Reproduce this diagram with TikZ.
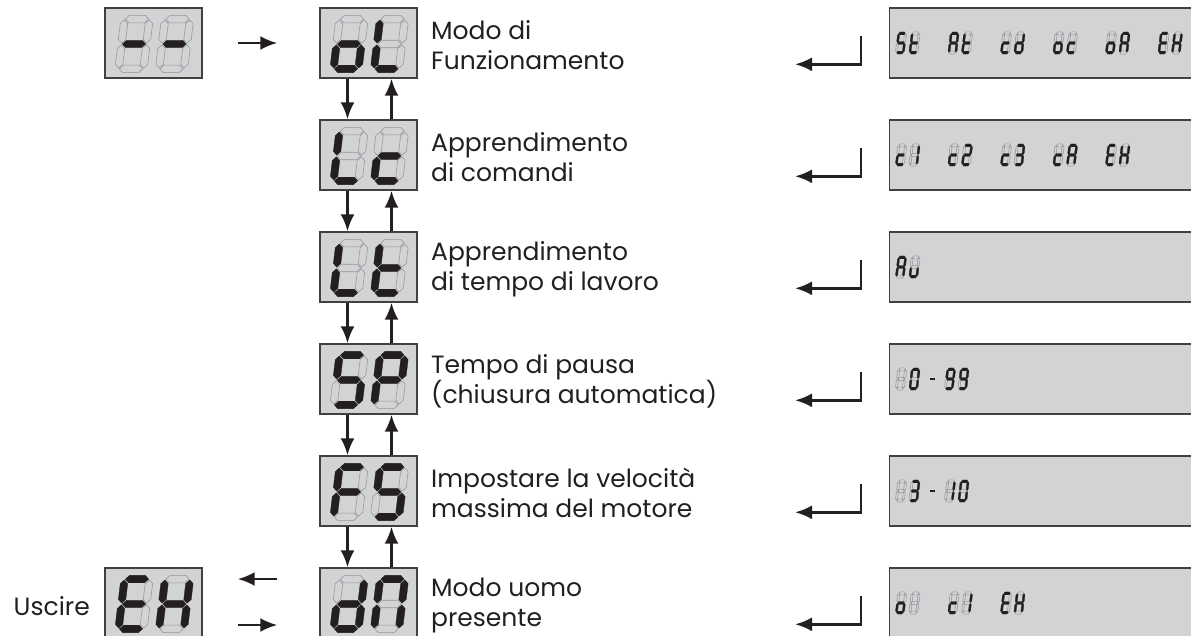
\documentclass[tikz,border=0pt]{standalone}
\usepackage{fontspec}
\setmainfont{Poppins}
\usepackage{xstring}
\usetikzlibrary{arrows.meta}
\definecolor{lcdgray}{HTML}{D1D3D4}
\definecolor{lcdedge}{HTML}{414042}
\definecolor{segoffc}{HTML}{939598}
\definecolor{ink}{HTML}{231F20}

\tikzset{
  display/.style={draw=lcdedge, fill=lcdgray, line width=1.4pt, minimum width=97pt, minimum height=70pt, inner sep=0pt},
  panel/.style={draw=lcdedge, fill=lcdgray, line width=1.4pt, minimum width=340pt, minimum height=70pt, anchor=west, inner sep=0pt},
  segon/.style={fill=ink, draw=ink, line width=0.3pt},
  segoff/.style={draw=segoffc, line width=0.55pt},
  flow/.style={draw=ink, line width=2.6pt, -{Latex[length=17pt,width=14pt]}},
  menutext/.style={anchor=west, align=left, text=ink, inner sep=0pt, font=\fontsize{25}{30}\selectfont},
}

% one lcd digit: position, xscale, yscale, lit segments
\newcommand{\lcddigit}[4]{%
  \begin{scope}[shift={#1}, xslant=0.12, xscale=#2, yscale=#3, shift={(-1.5,-3)}]
    \foreach \s/\sx/\sy/\sr in {a/1.5/6/0, b/3/4.5/90, c/3/1.5/90, d/1.5/0/0, e/0/1.5/90, f/0/4.5/90, g/1.5/3/0}{
      \IfSubStr{#4}{\s}{\def\segstyle{segon}}{\def\segstyle{segoff}}
      \draw[\segstyle, shift={(\sx,\sy)}, rotate=\sr] (-1.4,0) -- (-0.95,0.45) -- (0.95,0.45) -- (1.4,0) -- (0.95,-0.45) -- (-0.95,-0.45) -- cycle;
    }
  \end{scope}}
\newcommand{\bigpair}[3]{%
  \begin{scope}[shift={(#1)}]
    \lcddigit{(-19.5,-1)}{8.3}{8.3}{#2}
    \lcddigit{(21,-1)}{8.3}{8.3}{#3}
  \end{scope}}
\newcommand{\smallpair}[3]{%
  \lcddigit{(#1,0)}{2.3}{3.2}{#2}
  \lcddigit{(#1+13.5,0)}{2.3}{3.2}{#3}}
\newcommand{\lcddash}[1]{\fill[ink] (#1-2.8,-1.4) rectangle (#1+2.8,1.4);}

\begin{document}
\begin{tikzpicture}[x=1pt,y=1pt]
  \useasboundingbox (0,0) rectangle (1191,-635);
  \clip (0,0) rectangle (1191,-635);

  % menu displays
  \node[display] (dash) at (153.5,-43) {};
  \node[display] (oL) at (368.5,-43) {};
  \node[display] (Lc) at (368.5,-155) {};
  \node[display] (Lt) at (368.5,-267) {};
  \node[display] (SP) at (368.5,-379) {};
  \node[display] (FS) at (368.5,-491) {};
  \node[display] (dn) at (368.5,-603) {};
  \node[display] (EH) at (153.5,-603) {};
  \bigpair{dash}{g}{g}
  \bigpair{oL}{cdeg}{def}
  \bigpair{Lc}{def}{deg}
  \bigpair{Lt}{def}{defg}
  \bigpair{SP}{acdfg}{abefg}
  \bigpair{FS}{aefg}{acdfg}
  \bigpair{dn}{bcdeg}{abcef}
  \bigpair{EH}{adefg}{bcefg}

  % texts
  \node[menutext] (modo) at (431,-45) {Modo di\\Funzionamento};
  \node[menutext] (comandi) at (431,-157) {Apprendimento\\di comandi};
  \node[menutext] (lavoro) at (431,-269) {Apprendimento\\di tempo di lavoro};
  \node[menutext] (pausa) at (431,-381) {Tempo di pausa\\(chiusura automatica)};
  \node[menutext] (motore) at (431,-493) {Impostare la velocità\\massima del motore};
  \node[menutext] (uomo) at (431,-605) {Modo uomo\\presente};
  \node[menutext, anchor=east] (uscire) at (90,-606) {Uscire};

  % option panels
  \node[panel] (p1) at (889,-43) {};
  \node[panel] (p2) at (889,-155) {};
  \node[panel] (p3) at (889,-267) {};
  \node[panel] (p4) at (889,-379) {};
  \node[panel] (p5) at (889,-491) {};
  \node[panel] (p6) at (889,-603) {};
  \begin{scope}[shift={(p1.west)}]
    \smallpair{12}{acdfg}{defg}
    \smallpair{64.5}{abcefg}{defg}
    \smallpair{117}{deg}{bcdeg}
    \smallpair{169.5}{cdeg}{deg}
    \smallpair{222}{cdeg}{abcefg}
    \smallpair{274.5}{adefg}{bcefg}
  \end{scope}
  \begin{scope}[shift={(p2.west)}]
    \smallpair{12}{deg}{bc}
    \smallpair{64.5}{deg}{abdeg}
    \smallpair{117}{deg}{abcdg}
    \smallpair{169.5}{deg}{abcefg}
    \smallpair{222}{adefg}{bcefg}
  \end{scope}
  \begin{scope}[shift={(p3.west)}]
    \smallpair{12}{abcefg}{cde}
  \end{scope}
  \begin{scope}[shift={(p4.west)}]
    \smallpair{12}{}{abcdef}
    \lcddash{43.5}
    \smallpair{61}{abcdfg}{abcdfg}
  \end{scope}
  \begin{scope}[shift={(p5.west)}]
    \smallpair{12}{}{abcdg}
    \lcddash{43.5}
    \smallpair{61}{bc}{abcdef}
  \end{scope}
  \begin{scope}[shift={(p6.west)}]
    \smallpair{12}{cdeg}{}
    \smallpair{64.5}{deg}{bc}
    \smallpair{117}{adefg}{bcefg}
  \end{scope}

  % arrows
  \draw[flow, shorten <=35pt, shorten >=42pt] (dash) -- (oL);
  \foreach \a/\b in {oL/Lc, Lc/Lt, Lt/SP, SP/FS, FS/dn}{
    \draw[flow] ([xshift=-21]\a.south) -- ([xshift=-21]\b.north);
    \draw[flow] ([xshift=23]\b.north) -- ([xshift=23]\a.south);
  }
  \draw[flow, shorten <=42pt, shorten >=35pt] ([yshift=24]dn.west) -- ([yshift=24]EH.east);
  \draw[flow, shorten <=35pt, shorten >=42pt] ([yshift=-22]EH.east) -- ([yshift=-22]dn.west);
  \foreach \p in {p1,p2,p3,p4,p5,p6}
    \draw[flow] ([xshift=-28,yshift=-29]\p.north west) |- ([xshift=-94,yshift=-57]\p.north west);
\end{tikzpicture}
\end{document}
